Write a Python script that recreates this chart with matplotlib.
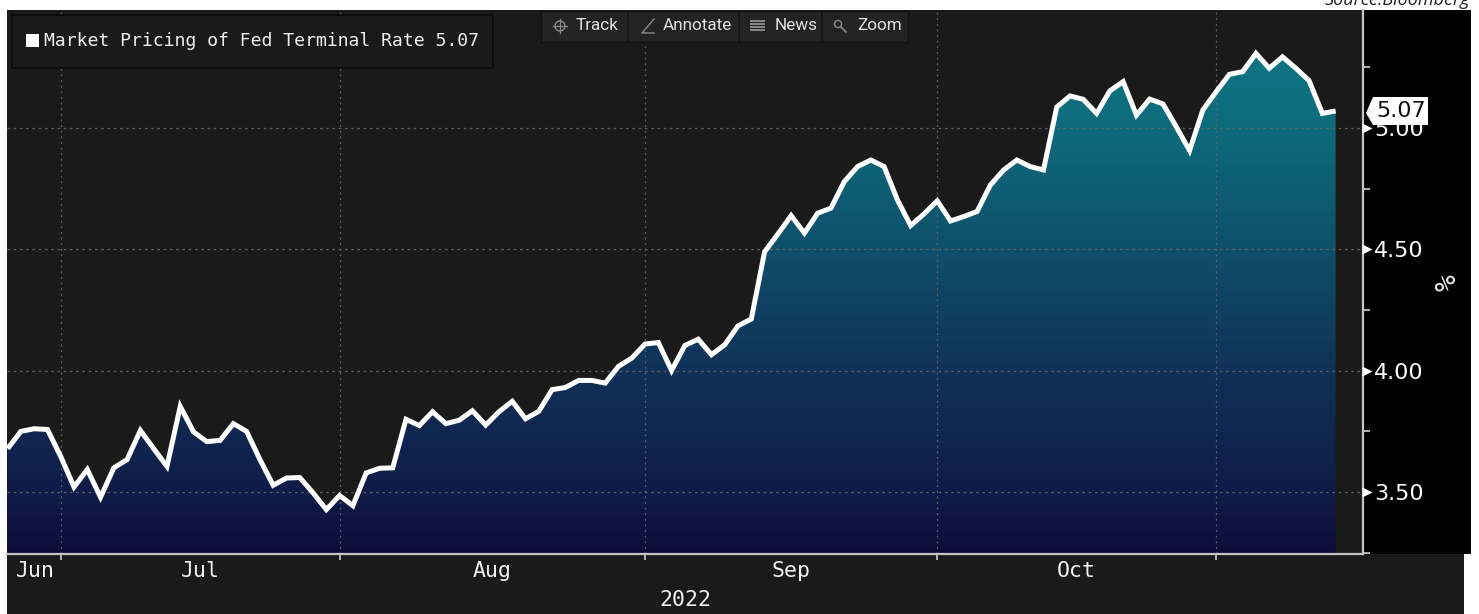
import numpy as np
import matplotlib
matplotlib.use('Agg')
import matplotlib.pyplot as plt
from matplotlib.colors import LinearSegmentedColormap
from matplotlib.patches import Rectangle, Polygon, Circle

W, H = 1479, 614

# terminal rate pricing, one value per business day
rate = [3.679, 3.750, 3.761, 3.758, 3.647, 3.521, 3.593, 3.479, 3.600, 3.634,
        3.754, 3.679, 3.606, 3.853, 3.748, 3.708, 3.713, 3.782, 3.750, 3.634,
        3.528, 3.558, 3.560, 3.497, 3.428, 3.486, 3.444, 3.579, 3.598, 3.600,
        3.800, 3.774, 3.831, 3.782, 3.796, 3.835, 3.776, 3.831, 3.874, 3.802,
        3.833, 3.922, 3.931, 3.960, 3.960, 3.949, 4.018, 4.052, 4.110, 4.116,
        4.001, 4.104, 4.130, 4.066, 4.107, 4.185, 4.213, 4.490, 4.563, 4.639,
        4.567, 4.649, 4.670, 4.779, 4.841, 4.868, 4.841, 4.704, 4.598, 4.646,
        4.700, 4.617, 4.635, 4.656, 4.765, 4.827, 4.868, 4.841, 4.827, 5.086,
        5.132, 5.118, 5.060, 5.153, 5.191, 5.053, 5.119, 5.099, 5.005, 4.907,
        5.074, 5.149, 5.221, 5.232, 5.307, 5.246, 5.293, 5.246, 5.195, 5.060,
        5.07]
month_starts = [4, 25, 48, 70, 91]
month_mids = [2.06, 14.5, 36.5, 59, 80.5]
month_names = ['Jun', 'Jul', 'Aug', 'Sep', 'Oct']
y_major = [3.5, 4.0, 4.5, 5.0]
y_minor = [3.25, 3.75, 4.25, 4.75, 5.25]
series_name = 'Market Pricing of Fed Terminal Rate'

BG = '#1a1a1a'
mono = 'DejaVu Sans Mono'
x = np.arange(len(rate))
last = rate[-1]

fig = plt.figure(figsize=(W / 100, H / 100), dpi=100, facecolor='white')

# dark panels behind the plot
back = fig.add_axes([0, 0, 1, 1], zorder=0)
back.set_xlim(0, W); back.set_ylim(H, 0); back.axis('off')
back.add_patch(Rectangle((1363, 10), 108, 544, fc='black', ec='none'))
back.add_patch(Rectangle((7, 554), 1457, 60, fc=BG, ec='none'))

ax = fig.add_axes([7 / W, 1 - 554 / H, 1356 / W, 544 / H], zorder=1, facecolor=BG)
xlim = (-0.045, 102.06)
ylim = (3.245, 5.486)

# vertical gradient clipped to the area under the line
cmap = LinearSegmentedColormap.from_list('area', [
    (0.0, '#0d0c38'), (0.115, '#0f1c49'), (0.34, '#103158'),
    (0.56, '#0f4f6c'), (0.78, '#0d6a7b'), (1.0, '#0f7a8c')])
grad = np.linspace(1, 0, 512).reshape(-1, 1)
im = ax.imshow(grad, cmap=cmap, extent=[xlim[0], xlim[1], ylim[0], ylim[1]],
               aspect='auto', zorder=1, interpolation='bilinear')
area = Polygon(list(zip(x, rate)) + [(x[-1], ylim[0]), (x[0], ylim[0])],
               closed=True, transform=ax.transData, fc='none', ec='none')
ax.add_patch(area)
im.set_clip_path(area)

ax.plot(x, rate, color='white', lw=3.6, zorder=3, solid_joinstyle='miter',
        solid_capstyle='butt')
ax.set_xlim(*xlim); ax.set_ylim(*ylim)

for v in month_starts:
    ax.axvline(v, color='#626262', lw=0.9, ls=(0, (1.5, 3)), zorder=2)
for v in y_major:
    ax.axhline(v, color='#626262', lw=0.9, ls=(0, (2, 3)), zorder=2)

for s in ['top', 'left']:
    ax.spines[s].set_visible(False)
for s in ['right', 'bottom']:
    ax.spines[s].set_color('#c4c4c4')
    ax.spines[s].set_linewidth(1.6)

ax.yaxis.tick_right()
ax.set_yticks(y_major, [f'{v:.2f}' for v in y_major])
ax.set_yticks(y_minor, minor=True)
ax.tick_params(axis='y', which='major', length=0, pad=8, labelsize=16, labelcolor='white')
ax.tick_params(axis='y', which='minor', length=5, width=1.2, color='#d0d0d0')
ax.set_xticks(month_starts, [])
ax.set_xticks(month_mids, month_names, minor=True)
ax.tick_params(axis='x', which='major', length=4, width=1.2, color='#d0d0d0')
ax.tick_params(axis='x', which='minor', length=0, pad=5, labelsize=15.5, labelcolor='#f2f2f2')
for lab in ax.get_xticklabels(minor=True):
    lab.set_family(mono)

# arrow ticks on the value axis
ax.plot([1.0028] * len(y_major), y_major, ls='none', marker='>', ms=7, color='white',
        mec='none', transform=ax.get_yaxis_transform(), clip_on=False, zorder=5)

# everything else is placed in pixel coordinates
ui = fig.add_axes([0, 0, 1, 1], zorder=2, facecolor='none')
ui.set_xlim(0, W); ui.set_ylim(H, 0); ui.axis('off')

ui.text(685, 600, '2022', family=mono, fontsize=15.5, color='#f2f2f2', ha='center', va='center')
ui.text(1448, 283, '%', family=mono, fontsize=20, color='#e8e8e8', rotation=90,
        ha='center', va='center')
ui.text(1470, 5, 'Source:Bloomberg', family='Open Sans', style='italic', fontsize=13,
        color='#222222', ha='right', va='baseline')

# legend box
ui.add_patch(Rectangle((11.5, 14.5), 481, 53, fc=BG, ec='#0b0b0b', lw=1.2, zorder=6))
ui.add_patch(Rectangle((26, 34), 13, 13, fc='white', ec='none', zorder=7))
ui.text(44, 41, f'{series_name} {last:.2f}', family=mono, fontsize=13.05, color='#f0f0f0',
        ha='left', va='center', zorder=7)

# chart toolbar
ui.add_patch(Rectangle((541, 11), 367, 31, fc='#232323', ec='#111111', lw=1, zorder=6))
for sep in [628, 739, 822]:
    ui.plot([sep, sep], [11, 42], color='#151515', lw=1.2, zorder=7)
for lab, lx in [('Track', 576), ('Annotate', 663), ('News', 775), ('Zoom', 857)]:
    ui.text(lx, 26, lab, family='Roboto', fontsize=12.3, color='#e2e2e2', ha='left', va='center', zorder=7)
icon = '#8a8a8a'
ui.add_patch(Circle((560, 26), 5, fc='none', ec=icon, lw=1, zorder=7))
ui.plot([560, 560], [19, 33], color=icon, lw=0.9, zorder=7)
ui.plot([553, 567], [26, 26], color=icon, lw=0.9, zorder=7)
ui.plot([654, 642, 654], [19, 33, 33], color=icon, lw=1, zorder=7)
for yy in [21, 24, 27, 30]:
    ui.plot([751, 764], [yy, yy], color=icon, lw=1.4, zorder=7)
ui.add_patch(Circle((838, 24), 3.5, fc='none', ec=icon, lw=1, zorder=7))
ui.plot([841, 846], [27, 32], color=icon, lw=1.2, zorder=7)

# last value tag, hung off the same value as the line's end
tag_y = H - ax.transData.transform((0, last))[1]
ui.add_patch(Polygon([(1366, tag_y + 2), (1373, tag_y - 14), (1428, tag_y - 14),
                      (1428, tag_y + 14), (1373, tag_y + 14)],
                     closed=True, fc='white', ec='none', zorder=8))
ui.text(1376, tag_y, f'{last:.2f}', fontsize=16, color='#111111', ha='left', va='center', zorder=9)

fig.savefig('out.png', dpi=100)
